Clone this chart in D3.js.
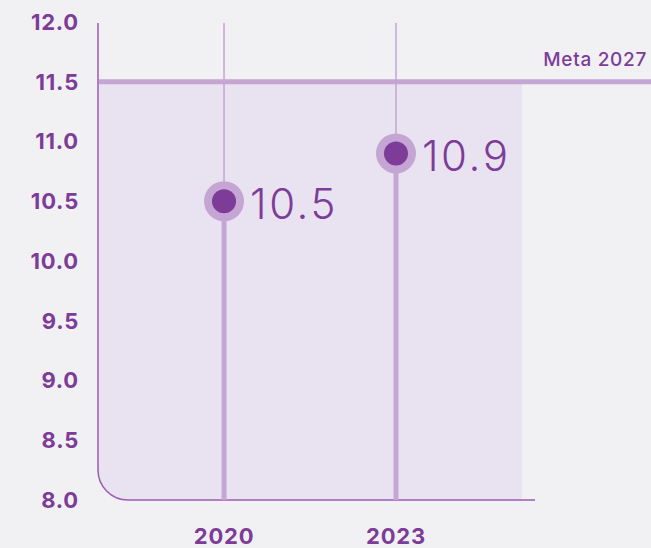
<!DOCTYPE html>
<html><head><meta charset="utf-8">
<script src="https://cdn.jsdelivr.net/npm/d3@7"></script>
<style>
html,body{margin:0;padding:0;background:#f1f1f4;}
svg{display:block;font-family:Inter,"Noto Sans",sans-serif;}
</style></head>
<body>
<script>
const years = ["2020", "2023"];
const values = [10.5, 10.9];
const yTicks = [8.0, 8.5, 9.0, 9.5, 10.0, 10.5, 11.0, 11.5, 12.0];
const goalValue = 11.5;
const goalLabel = "Meta 2027";

const W = 651, H = 548;
const dark = "#7d3c98", light = "#c4a5d3", fill = "#e9e3f1", axisCol = "#9a5bb3";

const svg = d3.select("body").append("svg").attr("width", W).attr("height", H);

const y = d3.scaleLinear().domain([8, 12]).range([500, 22]);
const x = d3.scalePoint().domain(years).range([98, 522]).padding(0.733);

const left = 98, right = 522, bottom = y(8), r = 30;

// shaded area under goal
svg.append("path")
  .attr("d", `M${left},${y(goalValue)} H${right} V${bottom} H${left + r} A${r},${r} 0 0 1 ${left},${bottom - r} Z`)
  .attr("fill", fill);

// axis path with rounded corner
svg.append("path")
  .attr("d", `M${left},${y(12) + 1} V${bottom - r} A${r},${r} 0 0 0 ${left + r},${bottom} H535`)
  .attr("fill", "none").attr("stroke", axisCol).attr("stroke-width", 1.5);

// y tick labels
svg.append("g").selectAll("text").data(yTicks).join("text")
  .attr("x", 79).attr("y", d => y(d)).attr("dy", "0.36em")
  .attr("text-anchor", "end").attr("fill", dark)
  .attr("font-size", 22).attr("font-weight", 700).attr("letter-spacing", 0.8)
  .text(d => d.toFixed(1));

// stems
const g = svg.append("g");
years.forEach((yr, i) => {
  const cx = x(yr), cy = y(values[i]);
  g.append("line").attr("x1", cx).attr("x2", cx).attr("y1", y(12) + 1).attr("y2", cy)
    .attr("stroke", light).attr("stroke-width", 1.5);
  g.append("line").attr("x1", cx).attr("x2", cx).attr("y1", cy).attr("y2", bottom)
    .attr("stroke", light).attr("stroke-width", 5);
});

// goal line
svg.append("line").attr("x1", left + 1).attr("x2", W).attr("y1", y(goalValue)).attr("y2", y(goalValue))
  .attr("stroke", light).attr("stroke-width", 5);
svg.append("text").attr("x", 647).attr("y", y(goalValue) - 16)
  .attr("text-anchor", "end").attr("fill", dark).attr("font-size", 19).attr("font-weight", 500)
  .attr("letter-spacing", 0.7)
  .text(goalLabel);

// points
years.forEach((yr, i) => {
  const cx = x(yr), cy = y(values[i]);
  svg.append("circle").attr("cx", cx).attr("cy", cy).attr("r", 20).attr("fill", light);
  svg.append("circle").attr("cx", cx).attr("cy", cy).attr("r", 12).attr("fill", dark);
  svg.append("text").attr("x", cx + 26).attr("y", cy + 18)
    .attr("fill", dark).attr("font-size", 42).attr("font-weight", 300)
    .attr("letter-spacing", 2.6)
    .text(values[i].toFixed(1));
});

// x labels
svg.append("g").selectAll("text").data(years).join("text")
  .attr("x", d => x(d)).attr("y", 544).attr("text-anchor", "middle")
  .attr("fill", dark).attr("font-size", 22).attr("font-weight", 700).attr("letter-spacing", 0.8)
  .text(d => d);
</script>
</body></html>
